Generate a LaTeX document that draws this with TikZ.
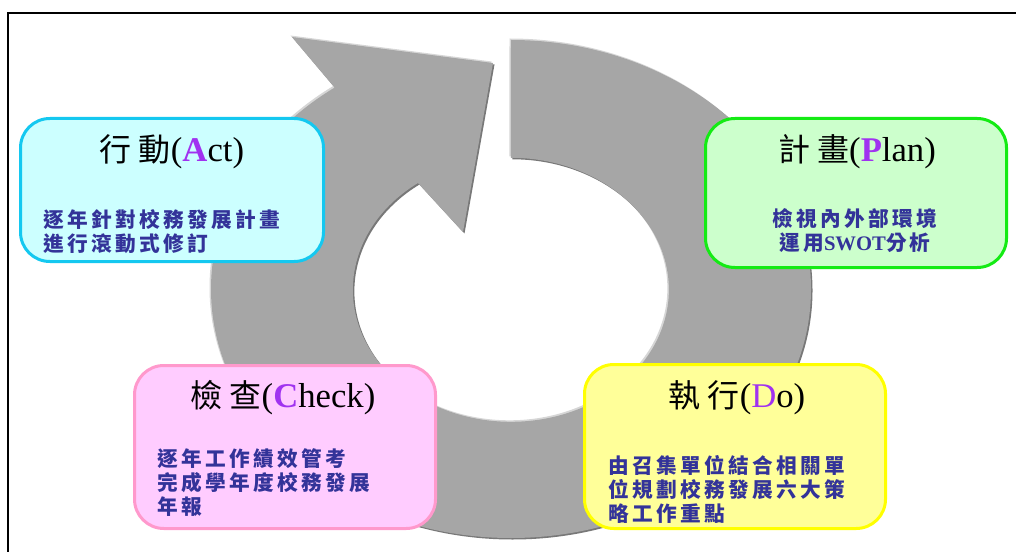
\documentclass[tikz,border=0pt]{standalone}
\usepackage{fontspec}
\setmainfont{Liberation Serif}
\newfontfamily\cjkti[LetterSpace=22]{Noto Sans CJK TC}
\newfontfamily\cjkbd[LetterSpace=16]{Noto Sans CJK TC}
\definecolor{ringgray}{RGB}{166,166,166}
\definecolor{ringlight}{RGB}{214,214,214}
\definecolor{ringdark}{RGB}{120,120,120}
\definecolor{actb}{RGB}{20,200,240}
\definecolor{actf}{RGB}{204,255,255}
\definecolor{planb}{RGB}{20,235,20}
\definecolor{planf}{RGB}{204,255,204}
\definecolor{checkb}{RGB}{255,153,204}
\definecolor{checkf}{RGB}{255,204,255}
\definecolor{dob}{RGB}{255,255,0}
\definecolor{dof}{RGB}{255,255,153}
\definecolor{keyletter}{RGB}{160,50,240}
\definecolor{bodytext}{RGB}{51,51,153}
\tikzset{
  box/.style={rectangle, rounded corners=22pt, line width=2.25pt, inner sep=0pt},
  ttl/.style={inner sep=0pt, anchor=center, font=\fontsize{26}{30}\selectfont},
  bodytxt/.style={inner sep=0pt, text=bodytext, font=\fontsize{15.5}{18}\selectfont\bfseries\cjkbd}
}
\begin{document}
\begin{tikzpicture}[x=0.75pt,y=-0.75pt]
\useasboundingbox (0,0) rectangle (1016,552);
% frame
\draw[line width=1.1pt, black] (8,552) -- (8,13) -- (1016,13);
% ring arrow with bevel
\foreach \dx/\dy/\c in {-1.5/-1.5/ringlight, 1.5/1.5/ringdark, 0/0/ringgray}{
  \fill[\c, shift={(\dx,\dy)}] (511,40)
    arc[start angle=-90, end angle=234, x radius=300, y radius=249]
    -- (292,37) -- (493,63) -- (463,232) -- (418,183)
    arc[start angle=234, end angle=-90, x radius=158, y radius=132]
    -- cycle;
}
% boxes
\node[box, draw=actb, fill=actf, minimum width=227.25pt, minimum height=107.25pt] (act) at (172,190) {};
\node[box, draw=planb, fill=planf, minimum width=225.75pt, minimum height=111.75pt] (plan) at (856,193) {};
\node[box, draw=checkb, fill=checkf, minimum width=225.75pt, minimum height=122.25pt] (check) at (285,447) {};
\node[box, draw=dob, fill=dof, minimum width=225.75pt, minimum height=123pt] (do) at (735,446.5) {};
% titles
\node[ttl] (actt) at (172,152) {{\cjkti\fontsize{24}{28}\selectfont 行動}(\textbf{\color{keyletter}A}ct)};
\node[ttl] (plant) at (857,152) {{\cjkti\fontsize{24}{28}\selectfont 計畫}(\textbf{\color{keyletter}P}lan)};
\node[ttl] (checkt) at (283,398) {{\cjkti\fontsize{24}{28}\selectfont 檢查}(\textbf{\color{keyletter}C}heck)};
\node[ttl] (dot) at (737,398) {{\cjkti\fontsize{24}{28}\selectfont 執行}({\color{keyletter}D}o)};
% bodies
\node[bodytxt, anchor=north west, align=left] (actb) at (43,209) {逐年針對校務發展計畫\\進行滾動式修訂};
\node[bodytxt, anchor=north, align=center] (planb) at (855,208) {檢視內外部環境\\運用{\fontspec{Liberation Serif}\bfseries SWOT}分析};
\node[bodytxt, anchor=north west, align=left] (checkb) at (157,448) {逐年工作績效管考\\完成學年度校務發展\\年報};
\node[bodytxt, anchor=north west, align=left] (dob) at (608,455) {由召集單位結合相關單\\位規劃校務發展六大策\\略工作重點};
\end{tikzpicture}
\end{document}
